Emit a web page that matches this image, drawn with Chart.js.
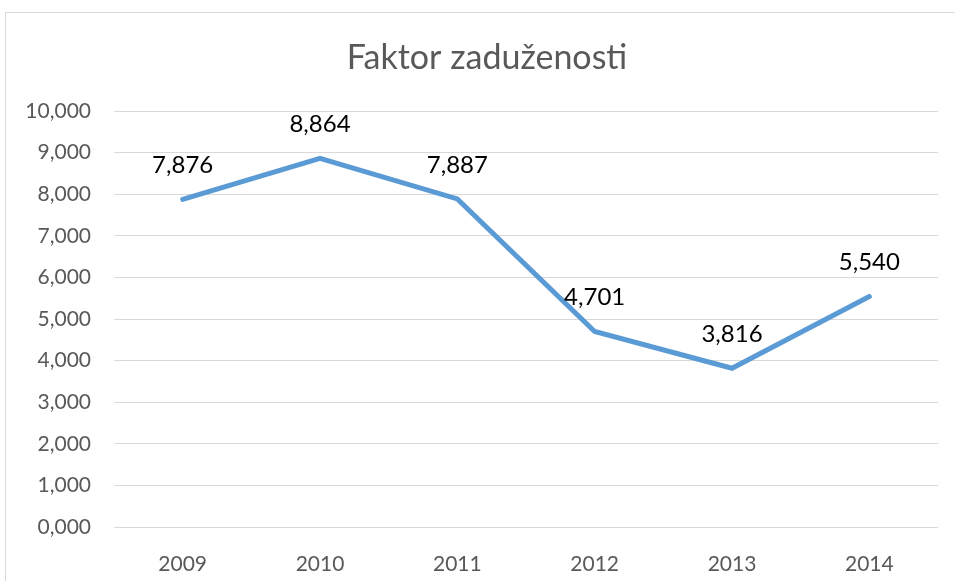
<!DOCTYPE html>
<html>
<head>
<meta charset="utf-8">
<script src="https://cdn.jsdelivr.net/npm/chart.js@4.4.0/dist/chart.umd.min.js"></script>
<style>
    html, body { margin: 0; padding: 0; background: #fff; }
    #frame { position: absolute; left: 5px; top: 12px; width: 1000px; height: 700px; border: 1px solid #d9d9d9; }
    #wrap { position: absolute; left: 0; top: 0; width: 955px; height: 581px; }
</style>
</head>
<body>
<div id="frame"></div>
<div id="wrap"><canvas id="chart"></canvas></div>
<script>
    const chartTitle = 'Faktor zaduženosti';
    const years = ['2009', '2010', '2011', '2012', '2013', '2014'];
    const faktor = [7.876, 8.864, 7.887, 4.701, 3.816, 5.540];
    const yTicks = [0, 1, 2, 3, 4, 5, 6, 7, 8, 9, 10];

    function fmt(v) {
        return Number(v).toFixed(3).replace('.', ',');
    }

    // labels above each point, like Excel's data labels
    const pointLabels = {
        id: 'pointLabels',
        afterDatasetsDraw(chart) {
            const ctx = chart.ctx;
            const meta = chart.getDatasetMeta(0);
            ctx.save();
            ctx.font = '24px Lato';
            ctx.fillStyle = '#000';
            ctx.textAlign = 'center';
            ctx.textBaseline = 'middle';
            meta.data.forEach((pt, i) => {
                ctx.fillText(fmt(faktor[i]), pt.x, pt.y - 34);
            });
            ctx.restore();
        }
    };

    // title centred on the whole chart frame, not on the canvas minus padding
    const frameTitle = {
        id: 'frameTitle',
        afterDraw(chart) {
            const ctx = chart.ctx;
            ctx.save();
            ctx.font = '34px Lato';
            ctx.fillStyle = '#595959';
            ctx.textAlign = 'center';
            ctx.textBaseline = 'middle';
            ctx.fillText(chartTitle, 487, 58);
            ctx.restore();
        }
    };

    new Chart(document.getElementById('chart'), {
        type: 'line',
        data: {
            labels: years,
            datasets: [{
                data: faktor,
                borderColor: '#5b9bd5',
                borderWidth: 5,
                pointRadius: 0,
                tension: 0,
                borderCapStyle: 'round'
            }]
        },
        options: {
            responsive: true,
            maintainAspectRatio: false,
            animation: false,
            layout: { padding: { left: 0, right: 17, top: 111, bottom: 0 } },
            plugins: {
                legend: { display: false },
                tooltip: { enabled: false },
                title: { display: false }
            },
            scales: {
                x: {
                    offset: true,
                    grid: { display: false },
                    border: { display: false },
                    ticks: { color: '#595959', font: { family: 'Lato', size: 21 }, padding: 17 },
                    afterFit(axis) { axis.height = 54; }
                },
                y: {
                    min: 0,
                    max: 10,
                    afterBuildTicks(axis) { axis.ticks = yTicks.map(v => ({ value: v })); },
                    grid: { color: '#d9d9d9', lineWidth: 1, drawTicks: false },
                    border: { display: false },
                    ticks: { color: '#595959', font: { family: 'Lato', size: 21 }, padding: 23, callback: v => fmt(v) },
                    afterFit(axis) { axis.width = 114; }
                }
            }
        },
        plugins: [pointLabels, frameTitle]
    });
</script>
</body>
</html>
